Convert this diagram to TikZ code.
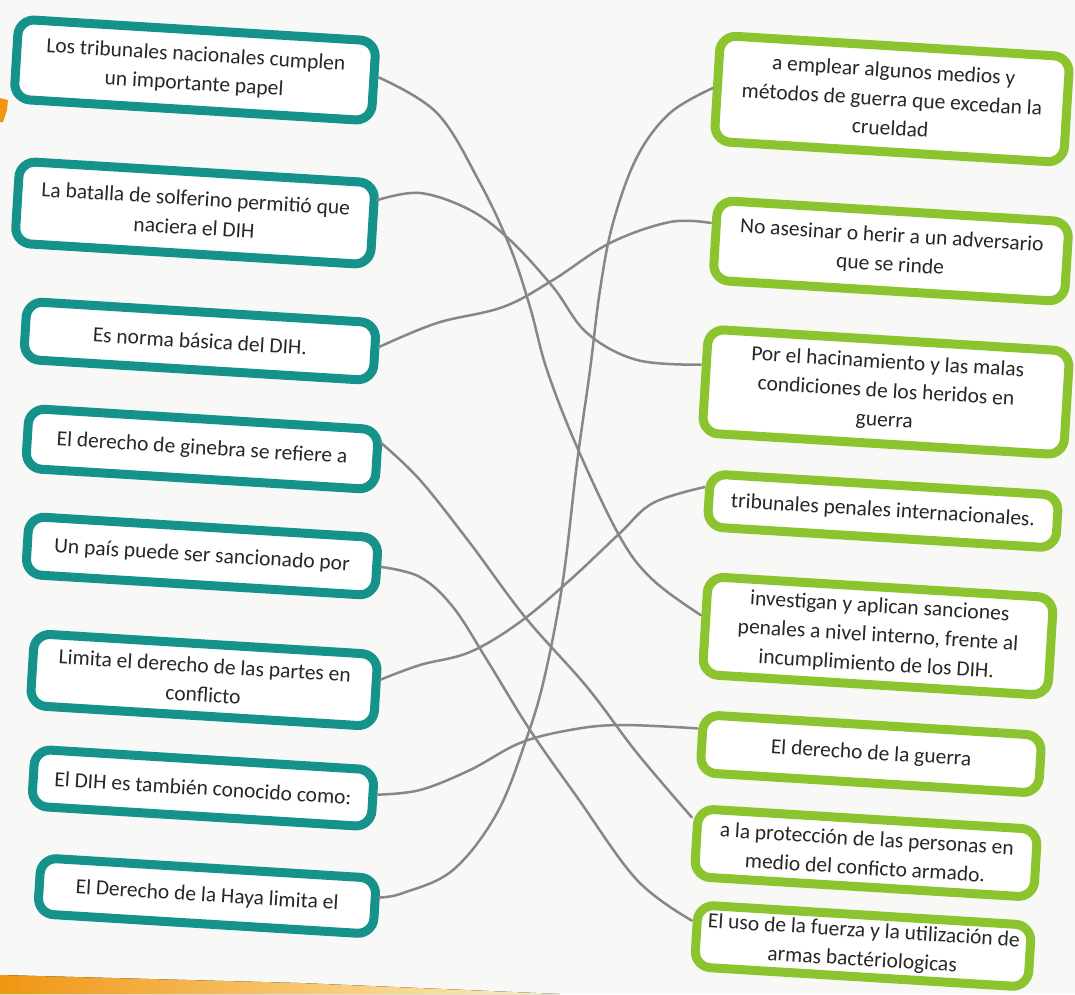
\documentclass[tikz,border=0pt]{standalone}
\usepackage{fontspec}
\setmainfont{Carlito}
\definecolor{tealb}{RGB}{22,146,140}
\definecolor{greenb}{RGB}{140,196,48}
\definecolor{paper}{RGB}{248,248,246}
\definecolor{txt}{RGB}{40,40,40}
\definecolor{pencil}{RGB}{135,135,135}
\definecolor{orangeS}{RGB}{240,150,20}
\definecolor{yellowS}{RGB}{250,215,90}
\tikzset{
  boxbase/.style={line width=9pt, rounded corners=16pt, fill=white, align=center,
    inner sep=0pt, text=txt, font=\fontsize{21.5}{29}\selectfont, rotate=-3.5},
  lbox/.style={boxbase, draw=tealb},
  rbox/.style={boxbase, draw=greenb},
  link/.style={draw=pencil, line width=2.5pt, line cap=round, line join=round}
}
\begin{document}
\begin{tikzpicture}[x=1pt,y=-1pt]
\useasboundingbox (0,0) rectangle (1075,994);
\fill[paper] (0,0) rectangle (1075,994);
% bottom stripe and margin mark
\fill[left color=orangeS, right color=yellowS!40] (0,975) -- (300,983) -- (560,994) -- (0,994) -- cycle;
\fill[orangeS] (0,98) -- (8,100) -- (7,110) -- (3,122) -- (0,122) -- cycle;

% left boxes
\node[lbox, minimum width=358pt, minimum height=80pt] (L1) at (195,70) {Los tribunales nacionales cumplen\\un importante papel};
\node[lbox, minimum width=356pt, minimum height=82pt] (L2) at (195,213) {La batalla de solferino permitió que\\naciera el DIH};
\node[lbox, minimum width=350pt, minimum height=58pt] (L3) at (200,341) {Es norma básica del DIH.};
\node[lbox, minimum width=350pt, minimum height=60pt] (L4) at (202,449) {El derecho de ginebra se refiere a};
\node[lbox, minimum width=350pt, minimum height=58pt] (L5) at (202,556) {Un país puede ser sancionado por};
\node[lbox, minimum width=344pt, minimum height=72pt] (L6) at (204,680) {Limita el derecho de las partes en\\conflicto};
\node[lbox, minimum width=340pt, minimum height=57pt] (L7) at (203,788) {El DIH es también conocido como:};
\node[lbox, minimum width=336pt, minimum height=56pt] (L8) at (207,896) {El Derecho de la Haya limita el};

% right boxes
\node[rbox, minimum width=350pt, minimum height=106pt] (R1) at (892,99) {a emplear algunos medios y\\métodos de guerra que excedan la\\crueldad};
\node[rbox, minimum width=352pt, minimum height=80pt] (R2) at (891,251) {No asesinar o herir a un adversario\\que se rinde};
\node[rbox, minimum width=362pt, minimum height=104pt] (R3) at (886,392) {Por el hacinamiento y las malas\\condiciones de los heridos en\\guerra};
\node[rbox, minimum width=349pt, minimum height=53pt] (R4) at (883,511) {tribunales penales internacionales.};
\node[rbox, minimum width=346pt, minimum height=98pt] (R5) at (878,636) {investigan y aplican sanciones\\penales a nivel interno, frente al\\incumplimiento de los DIH.};
\node[rbox, minimum width=339pt, minimum height=58pt] (R6) at (871,754) {El derecho de la guerra};
\node[rbox, minimum width=340pt, minimum height=68pt] (R7) at (866,853) {a la protección de las personas en\\medio del conficto armado.};
\node[rbox, minimum width=334pt, minimum height=62pt] (R8) at (863,946) {El uso de la fuerza y la utilización de\\armas bactériologicas};

% connector end points
\coordinate (a1) at ([yshift=4pt]L1.east);
\coordinate (a2) at ([yshift=24pt]L2.east);
\coordinate (a3) at ([yshift=5pt]L3.east);
\coordinate (a4) at ([yshift=17pt]L4.east);
\coordinate (a5) at (L5.east);
\coordinate (a6) at ([yshift=11pt]L6.east);
\coordinate (a7) at ([yshift=4pt]L7.east);
\coordinate (a8) at ([yshift=9pt]L8.east);
\coordinate (b1) at (R1.west);
\coordinate (b2) at ([yshift=17pt]R2.west);
\coordinate (b3) at ([yshift=16pt]R3.west);
\coordinate (b4) at ([yshift=13pt]R4.west);
\coordinate (b5) at ([yshift=10pt]R5.west);
\coordinate (b6) at ([yshift=15pt]R6.west);
\coordinate (b7) at ([yshift=25pt]R7.west);
\coordinate (b8) at ([yshift=15pt]R8.west);

% connectors
\draw[link] plot[smooth, tension=0.6] coordinates {(a1) (437,113) (480,183) (510,247) (530,307) (547,370) (577,447) (620,537) (653,580) (b5)};
\draw[link] plot[smooth, tension=0.6] coordinates {(a2) (420,193) (470,210) (510,240) (553,287) (587,333) (637,360) (b3)};
\draw[link] plot[smooth, tension=0.6] coordinates {(a3) (437,323) (503,307) (553,280) (610,243) (670,222) (b2)};
\draw[link] plot[smooth, tension=0.6] coordinates {(a4) (420,480) (470,543) (525,617) (587,687) (637,753) (b7)};
\draw[link] plot[smooth, tension=0.6] coordinates {(a5) (420,577) (453,607) (487,660) (530,730) (577,797) (637,880) (b8)};
\draw[link] plot[smooth, tension=0.6] coordinates {(a6) (420,665) (470,652) (520,622) (570,580) (620,533) (653,503) (b4)};
\draw[link] plot[smooth, tension=0.6] coordinates {(a7) (420,790) (470,770) (520,743) (570,730) (620,725) (b6)};
\draw[link] plot[smooth, tension=0.6] coordinates {(a8) (403,893) (453,870) (497,813) (527,737) (545,675) (563,580) (577,463) (590,370) (600,290) (613,223) (637,157) (670,113) (b1)};
\end{tikzpicture}
\end{document}
